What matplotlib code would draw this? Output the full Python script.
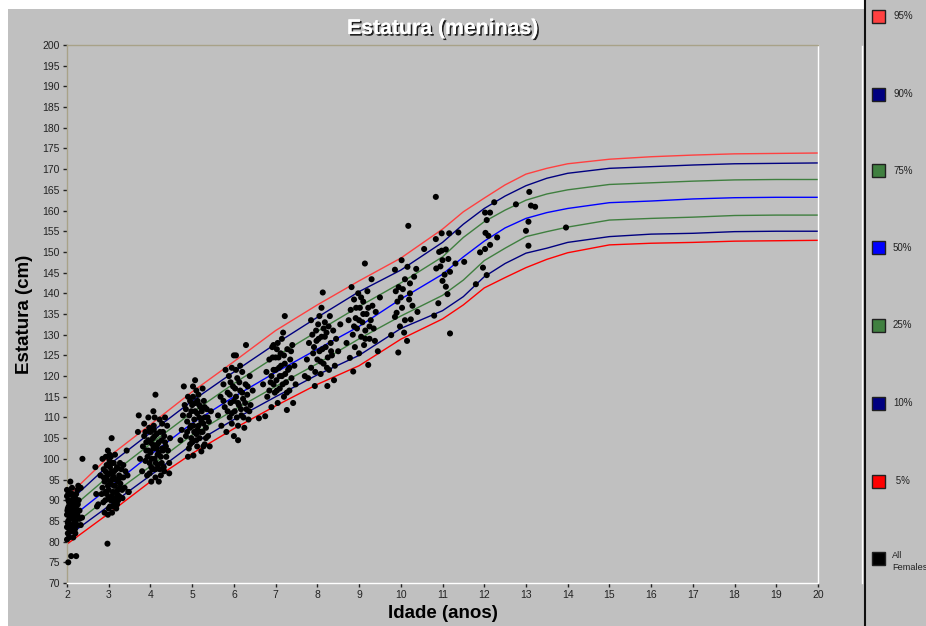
import matplotlib
matplotlib.use("Agg")
import matplotlib.pyplot as plt
import matplotlib.patheffects as pe
from matplotlib.patches import Rectangle
from matplotlib.lines import Line2D

plt.rcParams["font.family"] = ["Liberation Sans", "DejaVu Sans"]

# ---------------------------------------------------------------------------
# Data
# ---------------------------------------------------------------------------

ages = [2, 3, 4, 5, 6, 7, 8, 9, 10, 11, 11.5, 12, 12.5, 13, 13.5, 14,
        15, 16, 17, 18, 19, 20]

p95 = [90.8, 100.5, 108.3, 116.2, 123.5, 131.0, 137.2, 143.0, 148.5, 155.5,
       159.7, 163.0, 166.2, 168.8, 170.2, 171.3, 172.4, 173.0, 173.4, 173.7,
       173.8, 173.9]
p90 = [89.2, 98.5, 106.3, 114.0, 121.0, 127.8, 134.2, 140.4, 145.6, 152.3,
       156.7, 160.5, 163.5, 166.0, 167.8, 169.0, 170.2, 170.6, 171.0, 171.3,
       171.4, 171.5]
p75 = [87.2, 95.8, 103.6, 111.2, 118.2, 124.7, 130.8, 136.8, 142.5, 148.8,
       153.5, 157.3, 160.1, 162.5, 164.0, 165.0, 166.3, 166.7, 167.1, 167.4,
       167.5, 167.5]
p50 = [85.0, 93.0, 101.0, 108.6, 115.0, 120.9, 126.5, 132.0, 138.6, 144.6,
       148.8, 152.6, 155.8, 158.1, 159.5, 160.5, 161.9, 162.3, 162.8, 163.1,
       163.2, 163.2]
p25 = [82.8, 90.8, 98.2, 105.8, 111.8, 117.5, 123.0, 129.0, 134.5, 139.5,
       143.2, 147.9, 150.9, 153.7, 154.9, 156.0, 157.7, 158.1, 158.4, 158.8,
       158.9, 158.9]
p10 = [81.2, 88.6, 96.0, 103.5, 109.5, 115.0, 120.3, 125.0, 131.5, 135.8,
       139.2, 144.0, 147.2, 149.7, 150.9, 152.3, 153.7, 154.3, 154.5, 154.9,
       155.0, 155.0]
p5 = [79.4, 86.8, 94.5, 101.3, 107.3, 112.8, 118.0, 122.5, 128.9, 133.8,
      137.2, 141.3, 143.8, 146.2, 148.2, 149.8, 151.7, 152.1, 152.3, 152.6,
      152.7, 152.8]

# individual girls (age in years, height in cm), grouped by age cluster
pts_2 = [(2.03, 75.0), (2.10, 76.5), (2.22, 76.5), (2.37, 100.0),
         (2.00, 80.5), (2.05, 81.0), (2.15, 81.0), (2.02, 82.0), (2.10, 82.5),
         (2.20, 82.0), (2.00, 83.5), (2.08, 84.0), (2.15, 83.5), (2.25, 84.0),
         (2.33, 84.0), (2.03, 85.0), (2.12, 85.5), (2.20, 85.0), (2.30, 85.5),
         (2.36, 85.8), (2.00, 86.5), (2.07, 86.0), (2.16, 87.0), (2.25, 86.5),
         (2.30, 87.5), (2.02, 88.0), (2.10, 88.5), (2.18, 88.0), (2.26, 89.0),
         (2.05, 89.5), (2.13, 90.0), (2.20, 90.5), (2.00, 91.0), (2.08, 91.5),
         (2.16, 91.0), (2.00, 92.5), (2.05, 92.0), (2.12, 93.0), (2.08, 94.5),
         (2.27, 93.5), (2.33, 93.0), (2.22, 91.5), (2.28, 90.0), (2.18, 84.5),
         (2.05, 87.0), (2.12, 86.5), (2.22, 88.5), (2.03, 90.0), (2.15, 89.0),
         (2.08, 83.0), (2.25, 92.5), (2.02, 84.5), (2.06, 85.5), (2.10, 87.0),
         (2.14, 88.0), (2.18, 86.0), (2.22, 87.5), (2.04, 88.5), (2.09, 90.0),
         (2.13, 91.5), (2.17, 89.5), (2.01, 87.5), (2.11, 84.0), (2.19, 83.0),
         (2.06, 82.5), (2.24, 89.5), (2.03, 91.5)]
pts_3 = [(2.97, 79.5), (3.07, 105.0), (2.68, 98.0), (2.98, 102.0), (3.02, 101.0),
         (2.70, 91.5), (2.75, 89.0), (2.72, 88.5), (2.80, 96.0), (2.85, 93.0),
         (2.90, 87.0), (2.92, 90.0), (2.95, 95.0), (2.95, 98.5), (3.00, 88.0),
         (3.00, 92.5), (3.00, 96.5), (3.02, 99.5), (3.05, 90.0), (3.05, 94.0),
         (3.08, 97.0), (3.10, 88.5), (3.10, 92.0), (3.12, 95.5), (3.12, 99.0),
         (3.15, 90.5), (3.15, 93.5), (3.18, 97.5), (3.20, 89.0), (3.20, 95.0),
         (3.22, 92.5), (3.25, 96.0), (3.25, 91.0), (3.28, 94.0), (3.30, 97.5),
         (3.32, 92.5), (3.35, 95.5), (3.38, 93.0), (3.40, 97.0), (3.48, 92.0),
         (2.88, 97.5), (2.85, 100.0), (2.93, 100.5), (3.05, 100.5), (3.15, 101.0),
         (2.98, 86.5), (3.08, 87.0), (3.18, 88.0), (2.90, 94.5), (2.83, 91.5),
         (3.27, 99.0), (3.35, 98.5), (3.45, 96.0), (2.95, 91.5), (3.13, 97.0),
         (3.03, 98.0), (2.87, 89.5), (2.93, 92.0), (2.97, 96.0), (3.00, 90.5),
         (3.03, 94.5), (3.07, 91.0), (3.07, 99.0), (3.10, 96.0), (3.13, 89.5),
         (3.17, 92.0), (3.17, 95.0), (3.20, 98.0), (3.23, 90.0), (3.23, 94.5),
         (3.27, 93.0), (3.30, 95.5), (3.33, 90.5), (3.03, 88.5), (2.92, 97.0),
         (2.98, 93.5), (3.12, 93.5), (3.20, 91.5), (2.88, 95.5), (3.08, 95.0)]
pts_4 = [(3.47, 92.0), (3.43, 102.0), (3.70, 106.5), (3.72, 110.5), (3.95, 110.0),
         (4.07, 111.5), (4.12, 115.5), (4.45, 99.0), (3.75, 100.0), (3.80, 97.0),
         (3.82, 103.0), (3.85, 105.5), (3.88, 99.5), (3.90, 102.0), (3.92, 96.0),
         (3.95, 104.5), (3.98, 99.0), (4.00, 101.5), (4.00, 106.5), (4.02, 94.5),
         (4.05, 97.5), (4.05, 103.5), (4.08, 108.0), (4.10, 100.0), (4.12, 95.5),
         (4.15, 102.5), (4.15, 106.0), (4.18, 98.5), (4.20, 104.0), (4.22, 109.5),
         (4.25, 100.5), (4.25, 96.0), (4.28, 102.5), (4.30, 106.5), (4.32, 98.0),
         (4.35, 104.0), (4.38, 100.5), (4.40, 108.0), (4.42, 102.0), (4.45, 96.5),
         (3.97, 107.5), (4.10, 110.0), (4.20, 94.5), (4.33, 97.0), (4.47, 105.0),
         (3.85, 108.5), (4.06, 105.0), (4.17, 101.0), (4.27, 104.5), (3.93, 100.5),
         (4.02, 98.0), (4.35, 110.0), (3.90, 104.0), (3.95, 102.0), (4.00, 104.0),
         (4.03, 100.0), (4.07, 102.5), (4.10, 105.5), (4.13, 99.0), (4.17, 103.5),
         (4.20, 101.5), (4.23, 106.5), (4.27, 99.0), (4.30, 102.0), (4.33, 105.5),
         (4.37, 103.0), (3.98, 96.5), (4.12, 97.5), (4.22, 97.5), (3.88, 106.5),
         (4.08, 107.0), (4.28, 108.5)]
pts_5 = [(4.72, 104.5), (4.75, 107.0), (4.78, 110.5), (4.80, 117.5), (4.82, 113.0),
         (4.85, 105.5), (4.88, 109.0), (4.90, 115.0), (4.92, 102.5), (4.95, 107.5),
         (4.98, 111.5), (5.00, 104.0), (5.02, 117.5), (5.03, 100.8), (5.05, 109.5),
         (5.07, 119.0), (5.08, 113.5), (5.10, 106.0), (5.12, 103.0), (5.12, 111.0),
         (5.15, 108.0), (5.15, 115.5), (5.18, 105.0), (5.20, 112.5), (5.22, 101.8),
         (5.22, 109.0), (5.25, 106.5), (5.28, 114.0), (5.30, 103.5), (5.30, 110.0),
         (5.33, 107.5), (5.35, 112.0), (5.38, 105.5), (5.40, 109.0), (5.42, 103.0),
         (4.85, 112.0), (4.95, 114.0), (5.05, 106.5), (4.90, 100.5), (5.25, 117.0),
         (5.45, 111.5), (5.10, 116.5), (4.97, 108.0), (4.88, 106.5), (4.93, 110.5),
         (4.98, 105.0), (5.00, 113.0), (5.03, 108.0), (5.07, 111.5), (5.10, 104.5),
         (5.13, 107.0), (5.17, 110.0), (5.17, 113.0), (5.20, 106.5), (5.23, 111.5),
         (5.27, 108.5), (5.30, 112.5), (5.33, 105.0), (5.37, 110.0), (5.02, 115.0),
         (5.13, 114.0), (4.95, 103.5), (5.27, 103.0)]
pts_6 = [(5.62, 110.5), (5.68, 115.0), (5.70, 108.0), (5.75, 118.0), (5.78, 112.5),
         (5.82, 106.5), (5.85, 116.0), (5.88, 120.0), (5.90, 110.0), (5.92, 113.5),
         (5.95, 108.5), (5.98, 117.5), (6.00, 105.5), (6.00, 125.0), (6.02, 111.5),
         (6.05, 115.0), (6.05, 125.0), (6.08, 119.5), (6.10, 108.0), (6.12, 113.0),
         (6.15, 116.5), (6.18, 110.5), (6.20, 121.0), (6.22, 114.5), (6.25, 107.5),
         (6.28, 118.0), (6.29, 127.5), (6.30, 112.0), (6.32, 115.5), (6.35, 109.5),
         (6.38, 120.0), (6.40, 113.0), (5.80, 121.5), (6.15, 122.5), (5.95, 122.0),
         (6.10, 104.5), (6.45, 116.5), (5.85, 111.5), (5.90, 115.5), (5.95, 111.0),
         (6.00, 114.0), (6.03, 117.0), (6.07, 110.0), (6.10, 113.5), (6.13, 118.5),
         (6.17, 112.0), (6.20, 116.0), (6.23, 110.0), (6.27, 113.5), (6.33, 117.5),
         (6.37, 111.5), (5.92, 118.5), (6.05, 121.5), (5.75, 114.0)]
pts_7 = [(6.60, 109.8), (6.75, 110.3), (6.70, 118.0), (6.78, 121.0), (6.80, 115.0),
         (6.85, 124.0), (6.88, 118.5), (6.90, 112.5), (6.92, 127.0), (6.95, 121.5),
         (6.98, 116.0), (7.00, 124.5), (7.02, 119.0), (7.05, 128.0), (7.05, 113.5),
         (7.08, 122.0), (7.10, 117.0), (7.12, 125.5), (7.15, 120.0), (7.18, 130.5),
         (7.20, 115.0), (7.22, 134.5), (7.22, 123.0), (7.25, 118.5), (7.27, 111.8),
         (7.28, 126.5), (7.30, 121.5), (7.33, 116.5), (7.35, 124.0), (7.38, 119.5),
         (7.40, 127.5), (7.42, 113.5), (7.45, 122.5), (7.48, 118.0), (6.95, 127.5),
         (7.15, 129.0), (6.85, 116.5), (6.90, 120.0), (6.95, 118.0), (7.00, 121.5),
         (7.03, 116.5), (7.07, 124.5), (7.10, 120.0), (7.13, 122.5), (7.17, 118.0),
         (7.20, 125.0), (7.23, 120.5), (7.27, 116.0), (7.33, 122.0), (7.37, 126.0),
         (7.03, 126.5), (6.93, 124.5)]
pts_8 = [(7.70, 120.0), (7.75, 124.0), (7.78, 119.5), (7.80, 128.0), (7.85, 122.0),
         (7.88, 130.0), (7.90, 125.5), (7.94, 117.6), (7.95, 121.0), (7.98, 128.5),
         (8.00, 124.0), (8.02, 132.5), (8.05, 126.0), (8.08, 120.5), (8.10, 136.5),
         (8.10, 129.5), (8.13, 140.2), (8.15, 123.0), (8.18, 133.0), (8.20, 127.0),
         (8.22, 130.5), (8.24, 117.6), (8.25, 124.5), (8.28, 121.5), (8.30, 134.5),
         (8.32, 128.0), (8.35, 125.0), (8.38, 131.0), (8.42, 122.5), (8.45, 129.0),
         (8.50, 126.0), (8.55, 132.5), (7.85, 133.5), (8.40, 119.0), (7.92, 127.0),
         (8.03, 129.0), (8.08, 123.5), (8.12, 126.5), (8.18, 129.5), (8.23, 122.0),
         (8.27, 132.0), (8.33, 126.0), (7.97, 131.0), (8.15, 131.5), (8.05, 134.5)]
pts_9 = [(8.70, 128.0), (8.75, 133.5), (8.78, 124.4), (8.80, 136.0), (8.85, 130.0),
         (8.86, 121.1), (8.88, 138.5), (8.90, 127.0), (8.92, 134.0), (8.95, 131.5),
         (8.98, 140.0), (9.00, 125.5), (9.02, 136.5), (9.05, 129.5), (9.08, 133.0),
         (9.10, 138.0), (9.12, 127.5), (9.14, 147.2), (9.15, 131.0), (9.18, 135.0),
         (9.20, 140.5), (9.22, 122.7), (9.25, 129.0), (9.28, 133.5), (9.30, 143.4),
         (9.32, 137.0), (9.35, 131.5), (9.40, 135.5), (9.45, 126.0), (9.50, 139.0),
         (8.82, 141.5), (9.38, 128.5), (8.93, 136.5), (9.00, 133.5), (9.05, 139.0),
         (9.10, 135.0), (9.15, 129.0), (9.22, 136.5), (9.25, 132.0), (8.88, 132.0)]
pts_10 = [(9.77, 129.9), (9.86, 134.3), (9.86, 145.7), (9.88, 140.5), (9.90, 135.3),
          (9.92, 138.0), (9.94, 125.7), (9.95, 141.5), (9.98, 132.0), (10.00, 139.0),
          (10.02, 148.0), (10.03, 136.5), (10.05, 141.0), (10.08, 130.5), (10.10, 143.4),
          (10.10, 133.5), (10.16, 146.4), (10.18, 156.3), (10.20, 138.5), (10.22, 142.4),
          (10.22, 140.0), (10.24, 133.7), (10.28, 137.0), (10.32, 144.0), (10.37, 145.9),
          (10.40, 135.5), (10.15, 128.5)]
pts_11 = [(10.56, 150.7), (10.80, 134.6), (10.84, 163.3), (10.84, 153.1), (10.85, 146.0),
          (10.90, 137.6), (10.92, 150.0), (10.98, 154.5), (10.98, 150.3), (11.00, 148.0),
          (11.05, 144.5), (11.08, 150.6), (11.08, 141.6), (11.12, 139.8), (11.14, 148.3),
          (11.16, 154.5), (11.18, 145.2), (11.18, 130.3), (11.31, 147.2), (11.38, 154.7),
          (11.52, 147.6), (11.00, 143.0), (10.95, 146.5)]
pts_12 = [(11.80, 142.2), (11.90, 149.9), (12.02, 159.5), (12.14, 159.5), (12.24, 162.0),
          (12.06, 157.7), (12.03, 154.6), (12.10, 153.9), (12.31, 153.5), (12.14, 151.7),
          (12.02, 150.7), (12.06, 144.4), (11.97, 146.2)]
pts_13 = [(12.76, 161.5), (13.08, 164.5), (13.12, 161.2), (13.22, 160.9), (13.06, 157.3),
          (13.00, 155.1), (13.06, 151.5), (13.96, 155.9)]

legend_labels = ["95%", "90%", "75%", "50%", "25%", "10%", " 5%", "All\nFemales"]
legend_colors = ["#ff4040", "#000080", "#408040", "#0000ff", "#408040",
                 "#000080", "#ff0000", "#000000"]

W, H = 926, 626
BG = "#c0c0c0"


def fx(px):
    return px / W


def fy(py):
    return 1 - py / H


fig = plt.figure(figsize=(W / 100, H / 100), dpi=100, facecolor=BG)

# white frame strips (top and left of chart panel)
fig.add_artist(Rectangle((0, fy(9)), fx(864), 9 / H, transform=fig.transFigure,
                         facecolor="white", edgecolor="none"))
fig.add_artist(Rectangle((0, 0), fx(8), 1, transform=fig.transFigure,
                         facecolor="white", edgecolor="none"))
# separator between chart and legend panel
fig.add_artist(Line2D([fx(862), fx(862)], [fy(46), fy(583)],
                      transform=fig.transFigure, color="white", lw=1))
fig.add_artist(Line2D([fx(865), fx(865)], [0, 1],
                      transform=fig.transFigure, color="#101010", lw=1.5))

ax = fig.add_axes([fx(67), fy(583), fx(818) - fx(67), fy(45) - fy(583)])
ax.set_facecolor(BG)

curves = [(p95, "#ff4040"), (p90, "#000080"), (p75, "#3f7f3f"), (p50, "#0000ff"),
          (p25, "#3f7f3f"), (p10, "#000080"), (p5, "#ff0000")]
for vals, col in curves:
    ax.plot(ages, vals, color=col, lw=1.0, zorder=2)

all_pts = pts_2 + pts_3 + pts_4 + pts_5 + pts_6 + pts_7 + pts_8 + pts_9 \
    + pts_10 + pts_11 + pts_12 + pts_13
xs = [p[0] for p in all_pts]
ys = [p[1] for p in all_pts]
ax.scatter(xs, ys, s=19, color="black", edgecolors="none", zorder=3,
           clip_on=False)

ax.set_xlim(2, 20)
ax.set_ylim(70, 200)
ax.set_xticks(range(2, 21))
ax.set_yticks(range(70, 201, 5))
ax.tick_params(axis="both", labelsize=7.5, colors="#222222", length=3, width=1,
               pad=2)
for side in ("top", "left"):
    ax.spines[side].set_color("#a8a288")
for side in ("bottom", "right"):
    ax.spines[side].set_color("white")
for sp in ax.spines.values():
    sp.set_linewidth(1)

ax.set_xlabel("Idade (anos)", fontsize=13.5, fontweight="bold", labelpad=4)
ax.set_ylabel("Estatura (cm)", fontsize=13.5, fontweight="bold", labelpad=7)

fig.text(fx(443), fy(28.5), "Estatura (meninas)", ha="center", va="center",
         fontsize=15.3, fontweight="bold", color="white",
         path_effects=[pe.withSimplePatchShadow(offset=(1.2, -1.2),
                                                shadow_rgbFace="#202020",
                                                alpha=1.0),
                       pe.Normal()])

# legend panel
legend_y = [16, 94, 171, 248, 325, 403, 481, 558]
for lab, col, py in zip(legend_labels, legend_colors, legend_y):
    fig.add_artist(Rectangle((fx(872), fy(py + 6.5)), 13 / W, 13 / H,
                             transform=fig.transFigure, facecolor=col,
                             edgecolor="#202020", lw=1))
    if "\n" in lab:
        fig.text(fx(892), fy(py - 7), lab, ha="left", va="top", fontsize=6.6,
                 color="#222222", linespacing=1.5)
    else:
        fig.text(fx(893), fy(py), lab, ha="left", va="center", fontsize=7,
                 color="#222222")

fig.savefig("out.png", dpi=100, facecolor=BG)
